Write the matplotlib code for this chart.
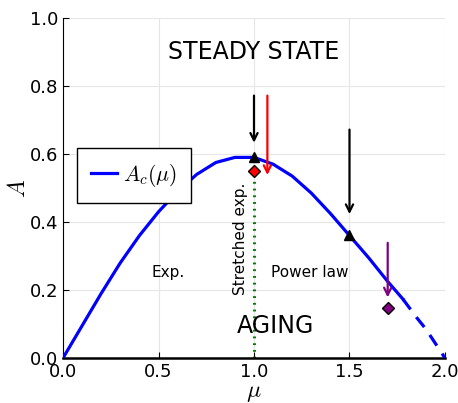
import matplotlib
matplotlib.use("Agg")
import matplotlib.pyplot as plt
import numpy as np

plt.rcParams['mathtext.fontset'] = 'cm'
plt.rcParams['font.family'] = 'DejaVu Sans'

# courbe A_c(mu)
mu_solid = [0.0, 0.1, 0.2, 0.3, 0.4, 0.5, 0.6, 0.7, 0.8, 0.9, 1.0, 1.1, 1.2, 1.3, 1.4, 1.5, 1.6, 1.7, 1.78]
ac_solid = [0.0, 0.095, 0.19, 0.28, 0.36, 0.43, 0.49, 0.54, 0.575, 0.59, 0.59, 0.57, 0.535, 0.485, 0.425, 0.36, 0.295, 0.225, 0.173]
mu_dash = [1.78, 1.85, 1.9, 2.0]
ac_dash = [0.173, 0.12, 0.085, 0.0]

# puntos
tri_mu = [1.0, 1.5]
tri_a = [0.59, 0.362]
red_mu, red_a = 1.0, 0.55
pur_mu, pur_a = 1.7, 0.148

# flechas (x, y inicio, y fin, color)
flechas = [(1.0, 0.78, 0.625, 'black'),
           (1.07, 0.78, 0.53, 'red'),
           (1.5, 0.68, 0.415, 'black'),
           (1.7, 0.347, 0.17, 'purple')]

fig = plt.figure(figsize=(4.58, 4.03), dpi=100)
ax = fig.add_axes([0.1376, 0.1117, 0.834, 0.8436])

ax.plot(mu_solid, ac_solid, color='blue', lw=2.3, label=r'$A_c(\mu)$', zorder=3)
ax.plot(mu_dash, ac_dash, color='blue', lw=2.3, ls=(0, (4, 3)), zorder=3)

ax.plot([1.0, 1.0], [0.0, 0.575], color='green', lw=2.2, ls=(0, (0.6, 1.6)), zorder=2)

ax.plot(tri_mu, tri_a, '^', color='black', ms=7, ls='none', zorder=5)
ax.plot(red_mu, red_a, 'D', mfc='red', mec='black', ms=6.5, zorder=5)
ax.plot(pur_mu, pur_a, 'D', mfc='purple', mec='black', ms=6, zorder=5)

for x, y0, y1, c in flechas:
    ax.annotate('', xy=(x, y1), xytext=(x, y0),
                arrowprops=dict(arrowstyle='->', color=c, lw=1.6, mutation_scale=13))

ax.text(1.0, 0.9, 'STEADY STATE', fontsize=17, ha='center', va='center')
ax.text(1.11, 0.094, 'AGING', fontsize=17, ha='center', va='center')
ax.text(0.55, 0.25, 'Exp.', fontsize=11, ha='center', va='center')
ax.text(1.29, 0.25, 'Power law', fontsize=11, ha='center', va='center')
ax.text(0.93, 0.35, 'Stretched exp.', fontsize=11, ha='center', va='center', rotation=90)

ax.set_xlim(0, 2)
ax.set_ylim(0, 1)
ax.set_xticks([0.0, 0.5, 1.0, 1.5, 2.0])
ax.set_yticks([0.0, 0.2, 0.4, 0.6, 0.8, 1.0])
ax.tick_params(direction='in', labelsize=13, length=4)
ax.grid(True, color='#e6e6e6', lw=0.8)
ax.set_axisbelow(True)
for s in ['top', 'right']:
    ax.spines[s].set_visible(False)
ax.spines['bottom'].set_linewidth(1.8)
ax.set_xlabel(r'$\mu$', fontsize=17, labelpad=-0.5)
ax.set_ylabel(r'$A$', fontsize=17, labelpad=0)

leg = ax.legend(loc='upper left', bbox_to_anchor=(0.037, 0.618), fontsize=15.5,
                fancybox=False, edgecolor='black', handlelength=1.2, borderpad=0.65,
                borderaxespad=0, handletextpad=0.3, framealpha=1)
leg.get_frame().set_linewidth(1.0)

fig.savefig('out.png', dpi=100)
